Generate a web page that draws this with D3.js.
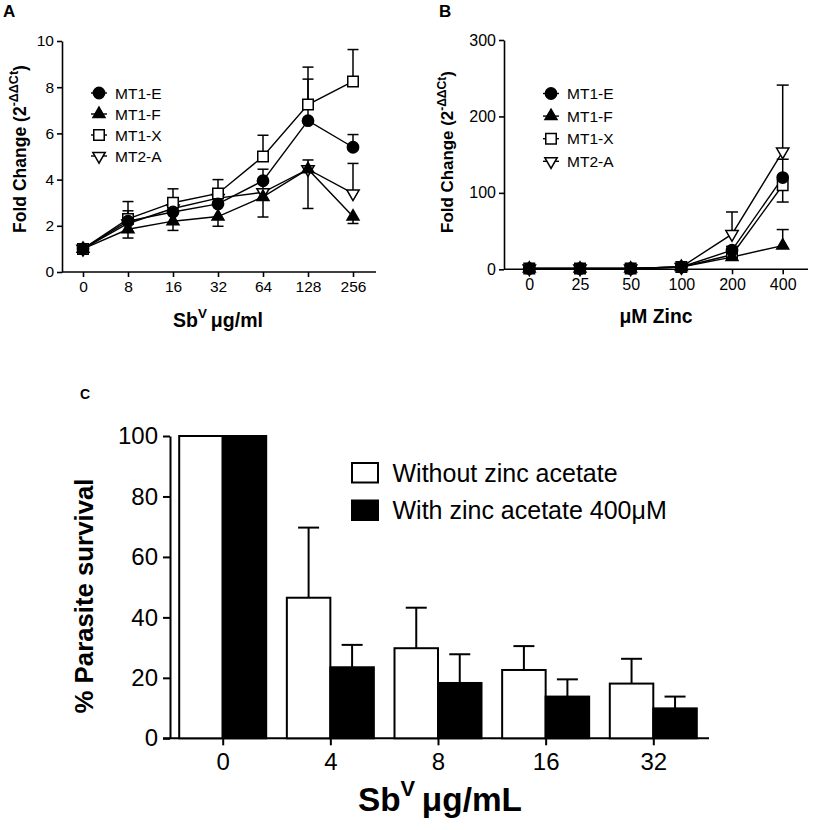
<!DOCTYPE html>
<html>
<head>
<meta charset="utf-8">
<script src="https://cdn.jsdelivr.net/npm/d3@7"></script>
<style>
  html, body { margin: 0; padding: 0; background: #fff; }
  svg { display: block; font-family: "Liberation Sans", Arial, Helvetica, sans-serif; }
</style>
</head>
<body>
<svg id="chart" width="813" height="830"></svg>
<script>
// ---------------- Panel A data ----------------
const doseA = ["0", "8", "16", "32", "64", "128", "256"];
const mt1eA = [1.0, 2.2, 2.6, 2.95, 3.95, 6.55, 5.4];
const mt1fA = [1.0, 1.85, 2.2, 2.4, 3.25, 4.45, 2.4];
const mt1xA = [1.0, 2.3, 3.0, 3.4, 5.0, 7.25, 8.25];
const mt2aA = [1.0, 2.1, 2.75, 3.2, 3.45, 4.45, 3.4];
const mt1eErrA = [0.05, 0.45, 0.4, 0.4, 0.5, 1.8, 0.55];
const mt1fErrA = [0.05, 0.38, 0.4, 0.42, 0.87, 1.7, 0.3];
const mt1xErrA = [0.05, 0.75, 0.6, 0.6, 0.92, 1.62, 1.38];
const mt2aErrA = [0.05, 0.35, 0.3, 0.3, 0.4, 0.4, 1.3];
const yTicksA = [0, 2, 4, 6, 8, 10];

// ---------------- Panel B data ----------------
const doseB = ["0", "25", "50", "100", "200", "400"];
const mt1eB = [1, 1, 1, 3, 25, 120];
const mt1fB = [1, 1, 1, 3, 16, 31];
const mt1xB = [1, 1, 1, 3, 19, 110];
const mt2aB = [1, 1, 1, 3, 46, 154];
const mt1eErrB = [0, 0, 0, 1, 5, 24];
const mt1fErrB = [0, 0, 0, 1, 3, 21];
const mt1xErrB = [0, 0, 0, 1, 4, 22];
const mt2aErrB = [0, 0, 0, 1, 29, 87];
const yTicksB = [0, 100, 200, 300];

// ---------------- Panel C data ----------------
const concC = ["0", "4", "8", "16", "32"];
const withoutC = [100, 46.5, 29.8, 22.6, 18.1];
const withoutErrC = [0, 23.2, 13.4, 7.9, 8.2];
const withC = [100, 23.5, 18.3, 13.8, 9.9];
const withErrC = [0, 7.4, 9.5, 5.7, 3.9];
const yTicksC = [0, 20, 40, 60, 80, 100];
const legendC = ["Without zinc acetate", "With zinc acetate 400\u03BCM"];
const seriesNames = ["MT1-E", "MT1-F", "MT1-X", "MT2-A"];

const svg = d3.select("#chart");
const FONT = '"Liberation Sans", Arial, Helvetica, sans-serif';

// scale a text element (and its tspans) so its advance equals the target length
function fitText(sel, target) {
  const node = sel.node();
  const w = node.getComputedTextLength();
  if (!w) return;
  const k = target / w;
  const scaleAttr = s => {
    const fs = parseFloat(s.attr("font-size"));
    if (!isNaN(fs)) s.attr("font-size", fs * k);
    const dy = parseFloat(s.attr("dy"));
    if (!isNaN(dy)) s.attr("dy", dy * k);
  };
  scaleAttr(sel);
  sel.selectAll("tspan").each(function () { scaleAttr(d3.select(this)); });
}

// marker definitions
const markerDefs = {
  "MT1-E": { type: d3.symbolCircle, size: 100, fill: "#000", rot: 0 },
  "MT1-F": { type: d3.symbolTriangle, size: 62, fill: "#000", rot: 0 },
  "MT1-X": { type: d3.symbolSquare, size: 110, fill: "#fff", rot: 0 },
  "MT2-A": { type: d3.symbolTriangle, size: 66, fill: "#fff", rot: 180 }
};

function drawMarker(g, name, x, y) {
  const m = markerDefs[name];
  g.append("path")
    .attr("d", d3.symbol().type(m.type).size(m.size)())
    .attr("transform", `translate(${x},${y}) rotate(${m.rot})`)
    .attr("fill", m.fill)
    .attr("stroke", "#000")
    .attr("stroke-width", 1.5);
}

function linePanel(cfg) {
  const g = svg.append("g");
  const x = d3.scalePoint().domain(cfg.cats).range(cfg.xRange);
  const y = d3.scaleLinear().domain(cfg.yDomain).range(cfg.yRange);

  // axes
  const yAxis = d3.axisLeft(y).tickValues(cfg.yTicks).tickSize(5).tickSizeOuter(0).tickPadding(3);
  const ya = g.append("g").attr("transform", `translate(${cfg.axisX},0)`).call(yAxis);
  g.append("line").attr("x1", cfg.axisX).attr("x2", cfg.xEnd)
    .attr("y1", y(0)).attr("y2", y(0)).attr("stroke", "#000").attr("stroke-width", 1.6);
  const xAxis = d3.axisBottom(x).tickSize(5).tickSizeOuter(0).tickPadding(4);
  const xa = g.append("g").attr("transform", `translate(0,${y(0)})`).call(xAxis);
  xa.select(".domain").remove();
  [ya, xa].forEach(a => {
    a.selectAll("text").attr("font-size", cfg.tickFont).attr("font-family", FONT).attr("fill", "#000");
    a.selectAll("line").attr("stroke", "#000").attr("stroke-width", 1.6);
    a.selectAll(".domain").attr("stroke", "#000").attr("stroke-width", 1.6);
  });

  // lines
  const line = d3.line().x((d, i) => x(cfg.cats[i])).y(d => y(d));
  cfg.series.forEach(s => {
    g.append("path").datum(s.values).attr("d", line)
      .attr("fill", "none").attr("stroke", "#000").attr("stroke-width", 1.4);
  });
  // error bars
  cfg.series.forEach(s => {
    s.values.forEach((v, i) => {
      const e = s.err[i];
      if (!e) return;
      const cx = x(cfg.cats[i]);
      const yv = y(v), ye = y(v + s.dir * e);
      g.append("line").attr("x1", cx).attr("x2", cx).attr("y1", yv).attr("y2", ye)
        .attr("stroke", "#000").attr("stroke-width", 1.5);
      g.append("line").attr("x1", cx - cfg.cap / 2).attr("x2", cx + cfg.cap / 2).attr("y1", ye).attr("y2", ye)
        .attr("stroke", "#000").attr("stroke-width", 1.5);
    });
  });
  // markers
  cfg.drawOrder.forEach(name => {
    const s = cfg.series.find(d => d.name === name);
    s.values.forEach((v, i) => drawMarker(g, name, x(cfg.cats[i]), y(v)));
  });

  // legend
  seriesNames.forEach((name, i) => {
    const ly = cfg.legY + i * cfg.legStep;
    g.append("line").attr("x1", cfg.legX - 8).attr("x2", cfg.legX + 8).attr("y1", ly).attr("y2", ly)
      .attr("stroke", "#000").attr("stroke-width", 1.4);
    drawMarker(g, name, cfg.legX, ly);
    g.append("text").attr("x", cfg.legX + 16).attr("y", ly + 5.5)
      .attr("font-size", cfg.legFont).attr("fill", "#000").text(name);
  });

  // panel letter
  g.append("text").attr("x", cfg.letterX).attr("y", 17).attr("font-size", 17)
    .attr("font-weight", "bold").text(cfg.letter);

  // y title
  const yt = g.append("text").attr("transform", `translate(${cfg.yTitleX},${cfg.yTitleY}) rotate(-90)`)
    .attr("text-anchor", "middle").attr("font-size", 14).attr("font-weight", "bold");
  yt.append("tspan").attr("font-size", 14).text("Fold Change (2");
  yt.append("tspan").attr("font-size", 10).attr("dy", -6).text("-\u0394\u0394Ct");
  yt.append("tspan").attr("font-size", 14).attr("dy", 6).text(")");
  fitText(yt, cfg.yTitleLen);
  return g;
}

// Panel A
const gA = linePanel({
  cats: doseA, xRange: [83, 353], yDomain: [0, 10], yRange: [272, 41],
  axisX: 62, xEnd: 376, yTicks: yTicksA, tickFont: 15.5, cap: 11,
  series: [
    { name: "MT1-E", values: mt1eA, err: mt1eErrA, dir: 1 },
    { name: "MT1-F", values: mt1fA, err: mt1fErrA, dir: -1 },
    { name: "MT1-X", values: mt1xA, err: mt1xErrA, dir: 1 },
    { name: "MT2-A", values: mt2aA, err: mt2aErrA, dir: 1 }
  ],
  drawOrder: ["MT2-A", "MT1-X", "MT1-F", "MT1-E"],
  legX: 99, legY: 93, legStep: 21, legFont: 15.5,
  letter: "A", letterX: 3, yTitleX: 26, yTitleY: 149, yTitleLen: 168
});
const xtA = gA.append("text").attr("x", 218).attr("y", 327).attr("text-anchor", "middle")
  .attr("font-size", 16).attr("font-weight", "bold");
xtA.append("tspan").attr("font-size", 16).text("Sb");
xtA.append("tspan").attr("font-size", 11).attr("dy", -7).text("V");
xtA.append("tspan").attr("dy", 7).attr("font-size", 16).text("\u2009\u03BCg/ml");
fitText(xtA, 90);

// Panel B
const gB = linePanel({
  cats: doseB, xRange: [529.3, 782.7], yDomain: [0, 300], yRange: [269.3, 40],
  axisX: 504, xEnd: 808, yTicks: yTicksB, tickFont: 16, cap: 12,
  series: [
    { name: "MT1-E", values: mt1eB, err: mt1eErrB, dir: 1 },
    { name: "MT1-F", values: mt1fB, err: mt1fErrB, dir: 1 },
    { name: "MT1-X", values: mt1xB, err: mt1xErrB, dir: -1 },
    { name: "MT2-A", values: mt2aB, err: mt2aErrB, dir: 1 }
  ],
  drawOrder: ["MT2-A", "MT1-X", "MT1-F", "MT1-E"],
  legX: 551, legY: 93.5, legStep: 22.6, legFont: 15.5,
  letter: "B", letterX: 439, yTitleX: 453, yTitleY: 152, yTitleLen: 162
});
const xtB = gB.append("text").attr("x", 656).attr("y", 323).attr("text-anchor", "middle")
  .attr("font-size", 15).attr("font-weight", "bold").text("\u03BCM Zinc");
fitText(xtB, 73);

// ---------------- Panel C ----------------
const gC = svg.append("g");
const xC = d3.scalePoint().domain(concC).range([222.7, 653.3]);
const yC = d3.scaleLinear().domain([0, 100]).range([738.3, 436]);
const barW = 43.5;

const yAxC = gC.append("g").attr("transform", "translate(170,0)")
  .call(d3.axisLeft(yC).tickValues(yTicksC).tickSize(7).tickSizeOuter(0).tickPadding(5));
gC.append("line").attr("x1", 163).attr("x2", 709).attr("y1", yC(0)).attr("y2", yC(0))
  .attr("stroke", "#000").attr("stroke-width", 2);
const xAxC = gC.append("g").attr("transform", `translate(0,${yC(0)})`)
  .call(d3.axisBottom(xC).tickSize(7).tickSizeOuter(0).tickPadding(8));
xAxC.select(".domain").remove();
[yAxC, xAxC].forEach(a => {
  a.selectAll("text").attr("font-size", 24).attr("font-family", FONT).attr("fill", "#000");
  a.selectAll("line").attr("stroke", "#000").attr("stroke-width", 2);
  a.selectAll(".domain").attr("stroke", "#000").attr("stroke-width", 2);
});

function drawBars(vals, errs, offset, fill) {
  vals.forEach((v, i) => {
    const cx = xC(concC[i]);
    const x0 = cx + offset;
    if (errs[i]) {
      const ex = x0 + barW / 2;
      const ye = yC(v + errs[i]);
      gC.append("line").attr("x1", ex).attr("x2", ex).attr("y1", yC(v)).attr("y2", ye)
        .attr("stroke", "#000").attr("stroke-width", 2);
      gC.append("line").attr("x1", ex - 10.5).attr("x2", ex + 10.5).attr("y1", ye).attr("y2", ye)
        .attr("stroke", "#000").attr("stroke-width", 2);
    }
    gC.append("rect").attr("x", x0).attr("y", yC(v)).attr("width", barW)
      .attr("height", yC(0) - yC(v)).attr("fill", fill).attr("stroke", "#000").attr("stroke-width", 2);
  });
}
drawBars(withoutC, withoutErrC, -barW, "#fff");
drawBars(withC, withErrC, 0, "#000");

// legend C
[["#fff", legendC[0], 463], ["#000", legendC[1], 500.5]].forEach(([f, t, ly]) => {
  gC.append("rect").attr("x", 352).attr("y", ly).attr("width", 26).attr("height", 19.5)
    .attr("fill", f).attr("stroke", "#000").attr("stroke-width", 2);
  gC.append("text").attr("x", 392.5).attr("y", ly + 18.5).attr("font-size", 25).attr("fill", "#000").text(t);
});

gC.append("text").attr("x", 80).attr("y", 399).attr("font-size", 14).attr("font-weight", "bold").text("C");

const ytC = gC.append("text").attr("transform", "translate(93,596) rotate(-90)").attr("text-anchor", "middle")
  .attr("font-size", 26).attr("font-weight", "bold").text("% Parasite survival");
fitText(ytC, 235);

const xtC = gC.append("text").attr("x", 358).attr("y", 811).attr("font-size", 29).attr("font-weight", "bold");
xtC.append("tspan").attr("font-size", 29).text("Sb");
xtC.append("tspan").attr("font-size", 19).attr("dy", -13).text("V");
xtC.append("tspan").attr("dy", 13).attr("font-size", 29).text("\u2009\u03BCg/mL");
fitText(xtC, 164);
</script>
</body>
</html>
